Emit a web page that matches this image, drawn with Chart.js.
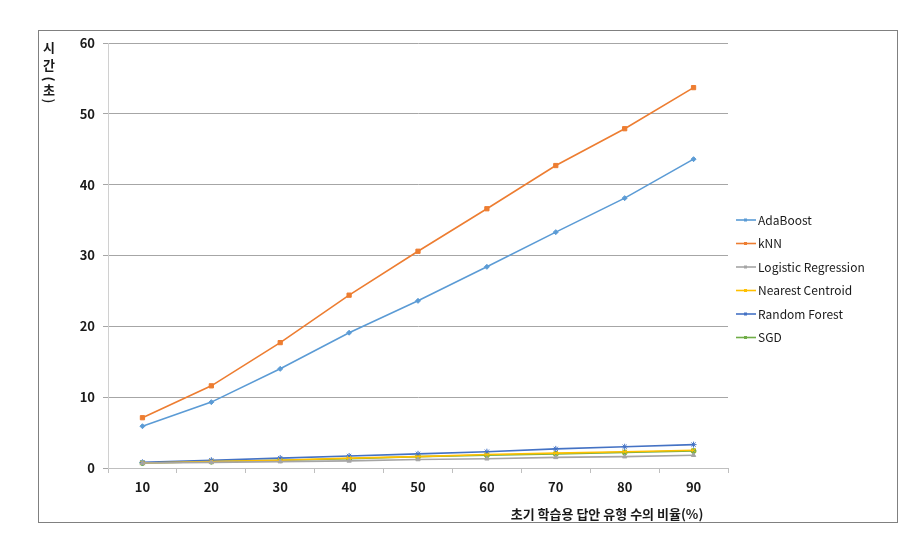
<!DOCTYPE html>
<html>
<head>
<meta charset="utf-8">
<script src="https://cdn.jsdelivr.net/npm/chart.js@4/dist/chart.umd.min.js"></script>
<style>
  body { margin: 0; background: #fff; }
  #wrap { width: 910px; height: 536px; }
</style>
</head>
<body>
<div id="wrap"><canvas id="timeChart" width="910" height="536"></canvas></div>
<script>
const categories = ['10', '20', '30', '40', '50', '60', '70', '80', '90'];
const adaBoost = [5.9, 9.3, 14.0, 19.1, 23.6, 28.4, 33.3, 38.1, 43.6];
const knn = [7.1, 11.6, 17.7, 24.4, 30.6, 36.6, 42.7, 47.9, 53.7];
const logistic = [0.7, 0.8, 0.9, 1.0, 1.2, 1.3, 1.5, 1.6, 1.8];
const nearestCentroid = [0.7, 0.9, 1.1, 1.4, 1.6, 1.9, 2.1, 2.3, 2.5];
const randomForest = [0.8, 1.1, 1.4, 1.7, 2.0, 2.3, 2.7, 3.0, 3.3];
const sgd = [0.7, 0.9, 1.1, 1.3, 1.6, 1.8, 2.0, 2.2, 2.4];

const font = '"Noto Sans CJK KR", "Noto Sans", sans-serif';

function series(label, data, color, style, radius) {
	return {
		label: label,
		data: data,
		borderColor: color,
		backgroundColor: color,
		pointStyle: style,
		pointRadius: radius,
		pointBorderWidth: 1,
		borderWidth: 1.6,
		tension: 0
	};
}

// outer frame, axis titles, custom legend (line + marker)
const extras = {
	id: 'extras',
	afterDraw(chart) {
		const ctx = chart.ctx;
		ctx.save();
		ctx.strokeStyle = '#808080';
		ctx.lineWidth = 1;
		ctx.strokeRect(38.5, 30.5, 859, 492);

		ctx.fillStyle = '#1a1a1a';
		ctx.font = 'bold 13px ' + font;
		ctx.textAlign = 'center';
		ctx.textBaseline = 'middle';
		ctx.fillText('시', 49, 47);
		ctx.fillText('간', 49, 65);
		ctx.fillText('초', 49, 90);
		[['(', 79], [')', 101]].forEach(([ch, y]) => {
			ctx.save();
			ctx.translate(49, y);
			ctx.rotate(Math.PI / 2);
			ctx.fillText(ch, 0, 0);
			ctx.restore();
		});

		ctx.fillText('초기 학습용 답안 유형 수의 비율(%)', 607, 514);

		ctx.font = '12px ' + font;
		ctx.textAlign = 'left';
		chart.data.datasets.forEach((ds, i) => {
			const y = 220 + i * 23.5;
			ctx.strokeStyle = ds.borderColor;
			ctx.lineWidth = 1.6;
			ctx.beginPath();
			ctx.moveTo(736, y);
			ctx.lineTo(756, y);
			ctx.stroke();
			ctx.fillStyle = ds.borderColor;
			ctx.fillRect(744, y - 1.5, 3, 3);
			ctx.fillStyle = '#1a1a1a';
			ctx.fillText(ds.label, 758, y);
		});
		ctx.restore();
	}
};

new Chart(document.getElementById('timeChart').getContext('2d'), {
	type: 'line',
	data: {
		labels: categories,
		datasets: [
			series('AdaBoost', adaBoost, '#5B9BD5', 'rectRot', 2.5),
			series('kNN', knn, '#ED7D31', 'rect', 3),
			series('Logistic Regression', logistic, '#A5A5A5', 'triangle', 2.5),
			series('Nearest Centroid', nearestCentroid, '#FFC000', 'crossRot', 3),
			series('Random Forest', randomForest, '#4472C4', 'star', 3),
			series('SGD', sgd, '#70AD47', 'circle', 2.5)
		]
	},
	options: {
		responsive: false,
		animation: false,
		layout: { padding: { left: 0, top: 43, right: 182, bottom: 0 } },
		plugins: {
			legend: { display: false },
			tooltip: { enabled: false }
		},
		scales: {
			x: {
				offset: true,
				grid: {
					offset: true,
					drawOnChartArea: false,
					drawTicks: true,
					tickLength: 5,
					color: '#bfbfbf'
				},
				border: { color: '#bfbfbf' },
				ticks: {
					color: '#1a1a1a',
					font: { family: font, size: 13, weight: 'bold' },
					padding: 6
				},
				afterFit(scale) { scale.height = 68; }
			},
			y: {
				min: 0,
				max: 60,
				ticks: {
					stepSize: 10,
					color: '#1a1a1a',
					font: { family: font, size: 13, weight: 'bold' },
					padding: 8
				},
				grid: {
					color: '#a6a6a6',
					tickLength: 5
				},
				border: { color: '#d0d0d0' },
				afterFit(scale) { scale.width = 108; }
			}
		}
	},
	plugins: [extras]
});
</script>
</body>
</html>
